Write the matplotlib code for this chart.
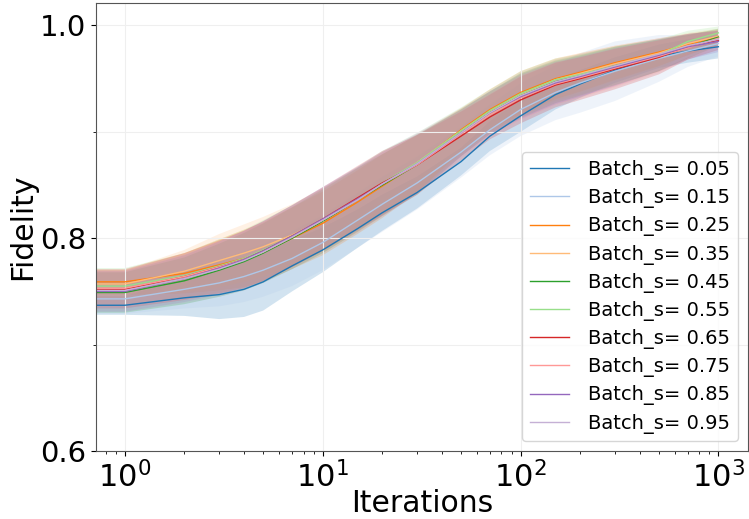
import numpy as np
import matplotlib
matplotlib.use("Agg")
import matplotlib.pyplot as plt
from matplotlib.ticker import MultipleLocator, FormatStrFormatter

iters = [0, 1, 2, 3, 4, 5, 7, 10, 15, 20, 30, 50, 70, 100, 150, 200, 300, 500, 700, 999]

labels = ["Batch_s= 0.05", "Batch_s= 0.15", "Batch_s= 0.25", "Batch_s= 0.35",
          "Batch_s= 0.45", "Batch_s= 0.55", "Batch_s= 0.65", "Batch_s= 0.75",
          "Batch_s= 0.85", "Batch_s= 0.95"]

# mean fidelity per batch size
means = [
    [0.737, 0.737, 0.744, 0.747, 0.752, 0.759, 0.774, 0.789, 0.809, 0.824, 0.843, 0.872, 0.896, 0.915, 0.935, 0.945, 0.958, 0.971, 0.976, 0.980],
    [0.743, 0.743, 0.752, 0.758, 0.764, 0.770, 0.781, 0.796, 0.817, 0.832, 0.852, 0.881, 0.902, 0.921, 0.937, 0.946, 0.957, 0.969, 0.976, 0.983],
    [0.759, 0.759, 0.767, 0.775, 0.781, 0.787, 0.800, 0.814, 0.834, 0.849, 0.870, 0.902, 0.921, 0.937, 0.950, 0.956, 0.965, 0.975, 0.982, 0.989],
    [0.757, 0.757, 0.769, 0.779, 0.786, 0.792, 0.803, 0.817, 0.836, 0.851, 0.871, 0.901, 0.919, 0.935, 0.949, 0.955, 0.964, 0.974, 0.983, 0.990],
    [0.749, 0.749, 0.760, 0.770, 0.778, 0.786, 0.800, 0.816, 0.836, 0.850, 0.869, 0.899, 0.918, 0.934, 0.947, 0.953, 0.962, 0.972, 0.980, 0.989],
    [0.755, 0.755, 0.765, 0.774, 0.781, 0.789, 0.802, 0.817, 0.837, 0.852, 0.871, 0.901, 0.920, 0.936, 0.949, 0.954, 0.962, 0.972, 0.985, 0.993],
    [0.752, 0.752, 0.764, 0.773, 0.780, 0.788, 0.802, 0.818, 0.838, 0.852, 0.869, 0.896, 0.914, 0.930, 0.944, 0.950, 0.959, 0.970, 0.980, 0.986],
    [0.753, 0.753, 0.764, 0.773, 0.780, 0.787, 0.801, 0.817, 0.836, 0.851, 0.869, 0.898, 0.916, 0.932, 0.945, 0.951, 0.960, 0.971, 0.979, 0.988],
    [0.750, 0.750, 0.762, 0.772, 0.780, 0.788, 0.802, 0.818, 0.837, 0.851, 0.870, 0.899, 0.918, 0.933, 0.946, 0.952, 0.961, 0.972, 0.980, 0.985],
    [0.751, 0.751, 0.762, 0.771, 0.779, 0.787, 0.801, 0.817, 0.836, 0.851, 0.870, 0.899, 0.918, 0.934, 0.947, 0.953, 0.962, 0.973, 0.981, 0.987],
]

# std (shaded band)
stds = [
    [0.009, 0.009, 0.017, 0.023, 0.026, 0.027, 0.024, 0.021, 0.018, 0.017, 0.015, 0.013, 0.014, 0.015, 0.014, 0.013, 0.012, 0.011, 0.011, 0.011],
    [0.014, 0.014, 0.018, 0.022, 0.024, 0.025, 0.026, 0.026, 0.026, 0.026, 0.025, 0.024, 0.024, 0.025, 0.026, 0.028, 0.028, 0.022, 0.015, 0.012],
    [0.012, 0.012, 0.019, 0.024, 0.027, 0.028, 0.029, 0.030, 0.030, 0.030, 0.027, 0.020, 0.019, 0.020, 0.019, 0.018, 0.016, 0.013, 0.010, 0.007],
    [0.013, 0.013, 0.020, 0.025, 0.027, 0.028, 0.029, 0.030, 0.030, 0.030, 0.027, 0.021, 0.019, 0.020, 0.019, 0.018, 0.016, 0.013, 0.010, 0.007],
    [0.019, 0.019, 0.022, 0.025, 0.027, 0.028, 0.029, 0.030, 0.030, 0.029, 0.028, 0.022, 0.020, 0.021, 0.020, 0.019, 0.018, 0.015, 0.011, 0.008],
    [0.017, 0.017, 0.021, 0.025, 0.027, 0.028, 0.029, 0.030, 0.030, 0.030, 0.028, 0.022, 0.020, 0.021, 0.020, 0.019, 0.018, 0.015, 0.010, 0.006],
    [0.018, 0.018, 0.022, 0.025, 0.027, 0.028, 0.029, 0.030, 0.030, 0.030, 0.028, 0.023, 0.021, 0.022, 0.021, 0.020, 0.019, 0.016, 0.012, 0.009],
    [0.018, 0.018, 0.022, 0.025, 0.027, 0.028, 0.029, 0.030, 0.030, 0.030, 0.028, 0.022, 0.020, 0.021, 0.020, 0.019, 0.018, 0.015, 0.011, 0.008],
    [0.019, 0.019, 0.022, 0.025, 0.027, 0.028, 0.029, 0.030, 0.030, 0.030, 0.028, 0.022, 0.020, 0.021, 0.020, 0.019, 0.018, 0.015, 0.012, 0.010],
    [0.020, 0.020, 0.023, 0.026, 0.028, 0.029, 0.030, 0.031, 0.031, 0.031, 0.029, 0.023, 0.021, 0.022, 0.021, 0.020, 0.018, 0.015, 0.011, 0.009],
]

colors = plt.cm.tab20.colors

fig = plt.figure(figsize=(7.49, 5.19), dpi=100)
ax = fig.add_axes([0.128, 0.131, 0.8707, 0.863])

x = np.array(iters, dtype=float)
for i in range(len(labels)):
    m = np.array(means[i])
    s = np.array(stds[i])
    ax.plot(x, m, color=colors[i], lw=1, label=labels[i])
    ax.fill_between(x, m - s, m + s, color=colors[i], alpha=0.2, lw=0)

ax.set_xscale("log")
ax.set_xlim(0.714, 1410)
ax.set_ylim(0.6, 1.021)
ax.yaxis.set_major_locator(MultipleLocator(0.2))
ax.yaxis.set_minor_locator(MultipleLocator(0.1))
ax.yaxis.set_major_formatter(FormatStrFormatter("%.1f"))
ax.yaxis.set_minor_formatter(plt.NullFormatter())

ax.grid(True, which="major", color="#efefef", lw=0.8)
ax.grid(True, which="minor", axis="y", color="#efefef", lw=0.8)
ax.tick_params(axis="x", which="major", labelsize=22)
ax.tick_params(axis="y", which="major", labelsize=21)
for sp in ax.spines.values():
    sp.set_color("#555555")

ax.set_xlabel("Iterations", fontsize=21.5, labelpad=-3)
ax.set_ylabel("Fidelity", fontsize=21.5, labelpad=2)

ax.legend(loc="lower right", fontsize=14, handlelength=2.0,
          labelspacing=0.42, handletextpad=1.0)

fig.savefig("out.png", dpi=100)
